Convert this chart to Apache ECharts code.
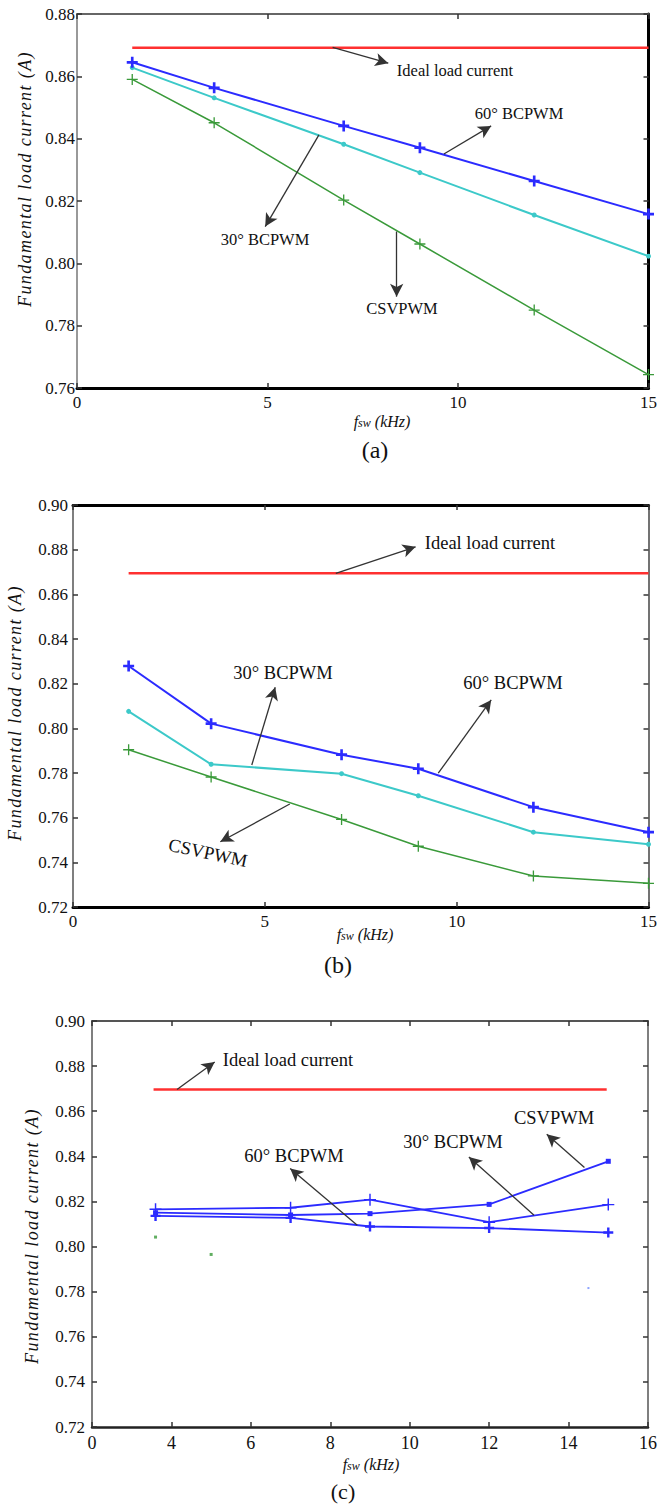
<!DOCTYPE html>
<html><head><meta charset="utf-8">
<script src="https://cdn.jsdelivr.net/npm/echarts@6/dist/echarts.min.js"></script>
<style>html,body{margin:0;padding:0;background:#fff}#c{width:660px;height:1506px}</style>
</head><body><div id="c"></div>
<script>
// ---------- DATA ----------
// Panel (a)
const xA = [1.45, 3.6, 7, 9, 12, 15];
const a60 = [0.8645, 0.8563, 0.8441, 0.8371, 0.8264, 0.8158];
const a30 = [0.8628, 0.8531, 0.8382, 0.8291, 0.8155, 0.8023];
const aCSV = [0.8590, 0.8451, 0.8203, 0.8062, 0.7850, 0.7643];
const aIdealX = [1.45, 15];
const aIdeal = [0.8692, 0.8692];
// Panel (b)
const xB = [1.45, 3.6, 7, 9, 12, 15];
const b60 = [0.8279, 0.8021, 0.7882, 0.7819, 0.7647, 0.7535];
const b30 = [0.8076, 0.7839, 0.7797, 0.7698, 0.7535, 0.7481];
const bCSV = [0.7904, 0.7782, 0.7592, 0.7472, 0.7339, 0.7306];
const bIdealX = [1.45, 15];
const bIdeal = [0.8694, 0.8694];
// Panel (c)
const xC = [3.6, 7, 9, 12, 15];
const c60 = [0.8136, 0.8127, 0.8089, 0.8082, 0.8062];
const c30 = [0.8165, 0.8172, 0.8208, 0.8108, 0.8186];
const cCSV = [0.8150, 0.8140, 0.8146, 0.8187, 0.8378];
const cIdealX = [3.55, 14.96];
const cIdeal = [0.8696, 0.8696];
const cSpeckGreenX = [3.6, 5.0];
const cSpeckGreen = [0.8042, 0.7965];
const cSpeckBlueX = [14.5];
const cSpeckBlue = [0.7816];
// Tick labels
const xTicksA = ['0', '5', '10', '15'];
const xTicksB = ['0', '5', '10', '15'];
const xTicksC = ['0', '4', '6', '8', '10', '12', '14', '16'];
const yTicksA = ['0.76', '0.78', '0.80', '0.82', '0.84', '0.86', '0.88'];
const yTicksBC = ['0.72', '0.74', '0.76', '0.78', '0.80', '0.82', '0.84', '0.86', '0.88', '0.90'];
// Texts
const yTitle = 'Fundamental load current (A)';
const captions = ['(a)', '(b)', '(c)'];
const nIdeal = 'Ideal load current', n60 = '60° BCPWM', n30 = '30° BCPWM', nCSV = 'CSVPWM';

// ---------- ANNOTATION ARROWS (data coords) ----------
const arrowsA = [[[6.71, 0.8693], [8.17, 0.8642]], [[9.63, 0.8351], [10.87, 0.8441]], [[6.35, 0.8412], [4.94, 0.8118]], [[8.39, 0.8102], [8.39, 0.7893]]];
const arrowsB = [[[6.85, 0.8694], [8.93, 0.8813]], [[4.66, 0.7836], [5.27, 0.8184]], [[9.52, 0.7799], [10.9, 0.8127]], [[5.65, 0.7661], [3.84, 0.7492]]];
const arrowsC = [[[4.14, 0.8696], [5.09, 0.8818]], [[8.68, 0.8094], [6.99, 0.8346]], [[13.13, 0.8139], [11.49, 0.8397]], [[14.4, 0.835], [13.45, 0.8498]]];

// ---------- STYLE ----------
const serif = "'Liberation Serif', 'Times New Roman', serif";
const BLUE = '#2b2bff', CYAN = '#3cc9c9', GREEN = '#3a9a3a', RED = '#ff3030';
const PLUS_BOLD = 'path://M3.8,0H6.2V3.8H10V6.2H6.2V10H3.8V6.2H0V3.8H3.8Z';
const PLUS_THIN = 'path://M4.4,0H5.6V4.4H10V5.6H5.6V10H4.4V5.6H0V4.4H4.4Z';

const pairs = (xs, ys) => xs.map((x, i) => [x, ys[i]]);
const mkArrows = arr => arr.map(a => [{coord: a[0]}, {coord: a[1]}]);

function xAx(grid, pos, min, max, interval, line, labels, margin, fontSize) {
  return {
    gridIndex: grid, type: 'value', position: pos, min, max, interval,
    axisLine: {show: true, onZero: false, lineStyle: line},
    axisTick: {show: true, inside: true, length: 5, lineStyle: {color: '#333', width: 1.5}},
    splitLine: {show: false},
    axisLabel: labels ? {show: true, margin, fontFamily: serif, fontSize, color: '#111',
      formatter: v => labels[Math.round((v - min) / interval)] ?? ''} : {show: false}
  };
}
function yAx(grid, pos, min, max, interval, line, labels, margin) {
  return {
    gridIndex: grid, type: 'value', position: pos, min, max, interval,
    axisLine: {show: true, onZero: false, lineStyle: line},
    axisTick: {show: true, inside: true, length: 5, lineStyle: {color: '#333', width: 1.5}},
    splitLine: {show: false},
    axisLabel: labels ? {show: true, margin, fontFamily: serif, fontSize: 17, color: '#111',
      formatter: v => labels[Math.round((v - min) / interval)] ?? ''} : {show: false}
  };
}

function line(xi, yi, data, color, width, symbol, size, extra) {
  return Object.assign({
    type: 'line', xAxisIndex: xi, yAxisIndex: yi, data, symbol, symbolSize: size,
    showSymbol: symbol !== 'none', silent: true, z: 3,
    lineStyle: {color, width}, itemStyle: {color}
  }, extra || {});
}
function arrowMark(arr) {
  return {markLine: {silent: true, symbol: ['none', 'arrow'], symbolSize: [10, 13],
    lineStyle: {color: '#333', width: 1.3, type: 'solid'}, label: {show: false},
    emphasis: {disabled: true}, data: mkArrows(arr)}};
}

function txt(x, y, text, size, extra) {
  return Object.assign({type: 'text', x, y, silent: true, z: 10,
    style: Object.assign({text, fontFamily: serif, fontSize: size, fill: '#111',
      align: 'center', verticalAlign: 'middle'}, (extra && extra.style) || {})},
    extra && extra.rotation !== undefined ? {rotation: extra.rotation} : {});
}
function yTitleTxt(x, y) {
  return txt(x, y, yTitle, 18, {rotation: Math.PI / 2, style: {fontStyle: 'italic'}});
}
function xTitleTxt(x, y) {
  return {type: 'text', x, y, silent: true, z: 10, style: {
    text: '{f|f}{s|sw}{f| (kHz)}', align: 'center', verticalAlign: 'middle', fill: '#111',
    rich: {
      f: {fontFamily: serif, fontStyle: 'italic', fontSize: 16, lineHeight: 18, verticalAlign: 'bottom'},
      s: {fontFamily: serif, fontStyle: 'italic', fontSize: 12, lineHeight: 16, verticalAlign: 'bottom'}
    }}};
}

const option = {
  animation: false,
  backgroundColor: '#fff',
  grid: [
    {left: 77, top: 14, width: 574, height: 374},
    {left: 73, top: 505, width: 578, height: 402},
    {left: 92, top: 1021, width: 557, height: 406}
  ],
  xAxis: [
    xAx(0, 'bottom', 0, 15, 5, {color: '#000', width: 3}, xTicksA, 6, 17),
    xAx(0, 'top', 0, 15, 5, {color: '#666', width: 2}, null),
    xAx(1, 'bottom', 0, 15, 5, {color: '#000', width: 3}, xTicksB, 6, 17),
    xAx(1, 'top', 0, 15, 5, {color: '#000', width: 3}, null),
    xAx(2, 'bottom', 2, 16, 2, {color: '#222', width: 2.5}, xTicksC, 7, 18),
    xAx(2, 'top', 2, 16, 2, {color: '#555', width: 2}, null)
  ],
  yAxis: [
    yAx(0, 'left', 0.76, 0.88, 0.02, {color: '#777', width: 1.5}, yTicksA, 2),
    yAx(0, 'right', 0.76, 0.88, 0.02, {color: '#000', width: 3}, null),
    yAx(1, 'left', 0.72, 0.90, 0.02, {color: '#555', width: 1.5}, yTicksBC, 5),
    yAx(1, 'right', 0.72, 0.90, 0.02, {color: '#444', width: 1.5}, null),
    yAx(2, 'left', 0.72, 0.90, 0.02, {color: '#555', width: 1.5}, yTicksBC, 7),
    yAx(2, 'right', 0.72, 0.90, 0.02, {color: '#555', width: 1.5}, null)
  ],
  series: [
    // (a)
    line(0, 0, pairs(aIdealX, aIdeal), RED, 2.5, 'none', 0, arrowMark(arrowsA)),
    line(0, 0, pairs(xA, a30), CYAN, 2, 'circle', 5),
    line(0, 0, pairs(xA, aCSV), GREEN, 1.5, PLUS_THIN, 11),
    line(0, 0, pairs(xA, a60), BLUE, 2, PLUS_BOLD, 11),
    // (b)
    line(2, 2, pairs(bIdealX, bIdeal), RED, 2.5, 'none', 0, arrowMark(arrowsB)),
    line(2, 2, pairs(xB, b30), CYAN, 2, 'circle', 5),
    line(2, 2, pairs(xB, bCSV), GREEN, 1.5, PLUS_THIN, 11),
    line(2, 2, pairs(xB, b60), BLUE, 2, PLUS_BOLD, 11),
    // (c)
    line(4, 4, pairs(cIdealX, cIdeal), RED, 2.5, 'none', 0, arrowMark(arrowsC)),
    line(4, 4, pairs(xC, cCSV), BLUE, 1.8, 'rect', 5),
    line(4, 4, pairs(xC, c30), BLUE, 1.8, PLUS_THIN, 12),
    line(4, 4, pairs(xC, c60), BLUE, 1.8, PLUS_BOLD, 10),
    {type: 'scatter', xAxisIndex: 4, yAxisIndex: 4, silent: true, symbol: 'rect', symbolSize: 3,
      itemStyle: {color: GREEN}, data: pairs(cSpeckGreenX, cSpeckGreen)},
    {type: 'scatter', xAxisIndex: 4, yAxisIndex: 4, silent: true, symbol: 'rect', symbolSize: 2,
      itemStyle: {color: '#6f8cff'}, data: pairs(cSpeckBlueX, cSpeckBlue)}
  ],
  graphic: [
    // y titles
    yTitleTxt(25, 179), yTitleTxt(15, 713), yTitleTxt(32, 1236),
    // x titles
    xTitleTxt(382, 420), xTitleTxt(365, 933), xTitleTxt(371, 1463),
    // captions
    txt(375, 450, captions[0], 24), txt(338, 965, captions[1], 24), txt(343, 1491, captions[2], 22),
    // (a) labels
    txt(455, 70, nIdeal, 16.5), txt(519, 113, n60, 16.5), txt(265, 239, n30, 16.5), txt(402, 308, nCSV, 16.5),
    // (b) labels
    txt(490, 543, nIdeal, 18.5), txt(283, 673, n30, 18.5), txt(513, 683, n60, 18.5),
    txt(208, 853, nCSV, 18.5, {rotation: -0.21}),
    // (c) labels
    txt(288, 1060, nIdeal, 18.5), txt(294, 1156, n60, 18.5), txt(453, 1142, n30, 18.5), txt(554, 1118, nCSV, 18.5)
  ]
};

const chart = echarts.init(document.getElementById('c'), null, {renderer: 'svg', width: 660, height: 1506});
chart.setOption(option);
function spaceTitles() {
  document.querySelectorAll('#c svg text').forEach(t => {
    if (t.textContent === yTitle) t.setAttribute('letter-spacing', '1.4');
  });
}
spaceTitles();
chart.on('finished', spaceTitles);
</script>
</body></html>
